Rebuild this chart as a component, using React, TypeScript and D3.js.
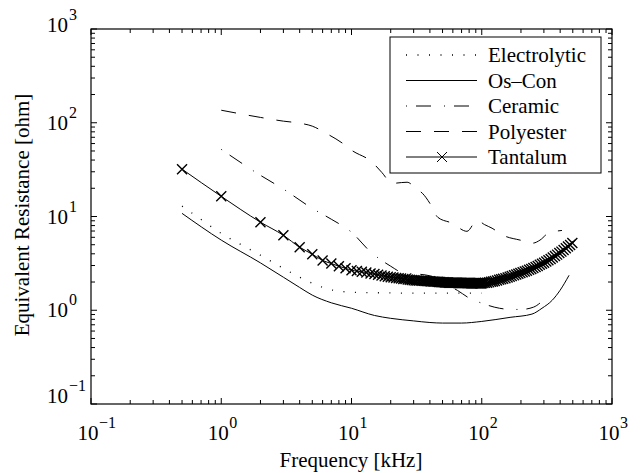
import React from "react";
import * as d3 from "d3";

const width = 641;
const height = 473;
const left = 91, right = 612, top = 29, bottom = 404;
const serif = {fontFamily: '"Liberation Serif", "DejaVu Serif", serif'};

// values, frequency in kHz, resistance in ohm
const electroFreq = [0.5, 0.7, 1, 1.5, 2, 3, 4, 5, 7, 10, 15, 20, 30, 50, 70, 100];
const electroRes = [12.9, 9.3, 6.6, 4.8, 3.86, 2.8, 2.25, 1.94, 1.65, 1.56, 1.54, 1.53, 1.52, 1.52, 1.52, 1.52];

const osconFreq = [0.5, 1, 2, 3, 4, 5, 7, 10, 15, 20, 30, 40, 50, 70, 100, 165, 243, 290, 348, 399, 468];
const osconRes = [10.8, 5.6, 3.2, 2.25, 1.75, 1.45, 1.2, 1.05, 0.88, 0.82, 0.77, 0.74, 0.73, 0.73, 0.76, 0.84, 0.91, 1.05, 1.28, 1.63, 2.36];

const ceramicFreq = [1, 2, 3, 5, 7, 10, 14, 20, 25, 30, 40, 50, 65, 80, 100, 137, 170, 200, 250, 300];
const ceramicRes = [52, 27.5, 19.6, 12.2, 9.35, 6.8, 4.2, 2.95, 2.5, 2.45, 2.33, 1.95, 1.63, 1.35, 1.19, 1.05, 1.02, 1.02, 1.08, 1.3];

const polyFreq = [1, 2, 3, 4, 5, 6.4, 8.6, 10, 14.4, 17.1, 20.5, 26.7, 31.8, 35, 40, 46, 59, 77, 92, 105, 120, 146, 197, 247, 280, 323, 413];
const polyRes = [136, 114, 104, 99, 92, 77, 60, 51, 38, 29.5, 22.6, 23.2, 19.5, 17.7, 13.8, 9.8, 8.5, 6.95, 9.1, 8.2, 7.5, 6.3, 5.6, 5.2, 5.6, 6.6, 7.1];

const tantFreq = [
  0.5, 1, 2, 3, 4, 5, 6, 7, 8, 9,
  10, 11, 12, 13, 14, 15, 16, 17, 18, 19,
  20, 21, 22, 23, 24, 25, 26, 27, 28, 29,
  30, 31, 32, 33, 34, 35, 36, 37, 38, 39,
  40, 41, 42, 43, 44, 45, 46, 47, 48, 49,
  50, 51, 52, 53, 54, 55, 56, 57, 58, 59,
  60, 61, 62, 63, 64, 65, 66, 67, 68, 69,
  70, 71, 72, 73, 74, 75, 76, 77, 78, 79,
  80, 81, 82, 83, 84, 85, 86, 87, 88, 89,
  90, 91, 92, 93, 94, 95, 96, 97, 98, 99,
  100, 103, 106, 110, 114, 118, 122, 126, 131, 136,
  141, 146, 152, 158, 164, 170, 177, 184, 191, 198,
  206, 214, 222, 231, 240, 249, 259, 269, 279, 290,
  301, 313, 325, 338, 351, 365, 379, 394, 409, 425,
  442, 459, 477, 496,
];
const tantRes = [
  32, 16.4, 8.7, 6.3, 4.7, 3.96, 3.4, 3.15, 2.95, 2.8,
  2.67, 2.62, 2.57, 2.52, 2.47, 2.43, 2.39, 2.35, 2.31, 2.28,
  2.25, 2.23, 2.21, 2.19, 2.18, 2.16, 2.15, 2.13, 2.12, 2.1,
  2.09, 2.08, 2.08, 2.07, 2.07, 2.06, 2.06, 2.05, 2.05, 2.04,
  2.04, 2.03, 2.03, 2.02, 2.02, 2.01, 2.01, 2.0, 2.0, 1.99,
  1.99, 1.99, 1.98, 1.98, 1.98, 1.98, 1.97, 1.97, 1.97, 1.97,
  1.96, 1.96, 1.96, 1.96, 1.96, 1.96, 1.95, 1.95, 1.95, 1.95,
  1.95, 1.95, 1.95, 1.95, 1.95, 1.95, 1.95, 1.95, 1.95, 1.95,
  1.95, 1.95, 1.95, 1.94, 1.94, 1.94, 1.94, 1.94, 1.94, 1.94,
  1.94, 1.94, 1.94, 1.94, 1.94, 1.94, 1.94, 1.94, 1.94, 1.94,
  1.94, 1.95, 1.96, 1.97, 1.99, 2.01, 2.03, 2.05, 2.08, 2.11,
  2.14, 2.17, 2.2, 2.24, 2.28, 2.32, 2.36, 2.4, 2.45, 2.49,
  2.54, 2.59, 2.64, 2.7, 2.76, 2.83, 2.9, 2.97, 3.05, 3.13,
  3.22, 3.32, 3.42, 3.53, 3.65, 3.78, 3.92, 4.07, 4.22, 4.4,
  4.58, 4.78, 4.98, 5.22,
];

const decades = [-1, 0, 1, 2, 3];
const legendNames = ["Electrolytic", "Os\u2013Con", "Ceramic", "Polyester", "Tantalum"];
const dashes = ["1 10.5", "", "1 9 15 13", "15 13", ""];

const x = d3.scaleLog().domain([0.1, 1000]).range([left, right]);
const y = d3.scaleLog().domain([0.1, 1000]).range([bottom, top]);

const line = d3.line<[number, number]>()
  .x(d => x(d[0]))
  .y(d => y(d[1]))
  .curve(d3.curveMonotoneX);

const pts = (f: number[], r: number[]) => f.map((v, i) => [v, r[i]] as [number, number]);

const series = [
  pts(electroFreq, electroRes),
  pts(osconFreq, osconRes),
  pts(ceramicFreq, ceramicRes),
  pts(polyFreq, polyRes),
  pts(tantFreq, tantRes),
];

function Cross({cx, cy, w = 1.4}: {cx: number, cy: number, w?: number}) {
  const s = 5;
  return <path d={`M${cx - s},${cy - s}L${cx + s},${cy + s}M${cx - s},${cy + s}L${cx + s},${cy - s}`}
               stroke="black" strokeWidth={w} fill="none"/>;
}

function minorTicks() {
  const out: number[] = [];
  decades.slice(0, -1).forEach(e => {
    for (let k = 2; k <= 9; k++) out.push(k * Math.pow(10, e));
  });
  return out;
}

export default function App() {
  const minors = minorTicks();
  const majors = decades.map(e => Math.pow(10, e));
  const expLabel = (e: number) => (e < 0 ? "\u2212" + Math.abs(e) : String(e));

  return (
    <svg width={width} height={height} style={{position: "absolute", left: 0, top: 0, background: "white"}}>
      <rect x={0} y={0} width={width} height={height} fill="white"/>

      {/* data */}
      <g fill="none" stroke="black" strokeWidth={1}>
        {series.map((s, i) => (
          <path key={i} d={line(s) || ""} strokeDasharray={dashes[i] || undefined}
                strokeWidth={i === 0 ? 1.3 : 1}/>
        ))}
      </g>
      <g>
        {series[4].map((d, i) => <Cross key={i} cx={x(d[0])} cy={y(d[1])}/>)}
      </g>

      {/* ticks */}
      <g stroke="black" strokeWidth={1}>
        {majors.map((v, i) => (
          <g key={"M" + i}>
            <line x1={x(v)} x2={x(v)} y1={bottom} y2={bottom - 6}/>
            <line x1={x(v)} x2={x(v)} y1={top} y2={top + 6}/>
            <line x1={left} x2={left + 6} y1={y(v)} y2={y(v)}/>
            <line x1={right} x2={right - 6} y1={y(v)} y2={y(v)}/>
          </g>
        ))}
        {minors.map((v, i) => (
          <g key={"m" + i}>
            <line x1={x(v)} x2={x(v)} y1={bottom} y2={bottom - 4}/>
            <line x1={x(v)} x2={x(v)} y1={top} y2={top + 4}/>
            <line x1={left} x2={left + 4} y1={y(v)} y2={y(v)}/>
            <line x1={right} x2={right - 4} y1={y(v)} y2={y(v)}/>
          </g>
        ))}
      </g>
      <rect x={left} y={top} width={right - left} height={bottom - top} fill="none" stroke="black" strokeWidth={1.2}/>

      {/* tick labels */}
      <g fill="black" style={serif}>
        {decades.map(e => {
          const px = x(Math.pow(10, e));
          return (
            <g key={"xl" + e}>
              <text x={px - 3} y={440} fontSize={21} textAnchor="middle" style={serif}>10</text>
              <text x={px + 8} y={428} fontSize={16} style={serif}>{expLabel(e)}</text>
            </g>
          );
        })}
        {decades.map(e => {
          const py = y(Math.pow(10, e));
          const off = e === -1 ? -1 : e === 3 ? 3 : 7;
          return (
            <g key={"yl" + e}>
              <text x={68} y={py + off} fontSize={21} textAnchor="end" style={serif}>10</text>
              <text x={69} y={py + off - 12} fontSize={16} style={serif}>{expLabel(e)}</text>
            </g>
          );
        })}
      </g>

      {/* axis titles */}
      <text x={351} y={467} fontSize={21} textAnchor="middle" style={serif}>Frequency [kHz]</text>
      <text transform="translate(29,215) rotate(-90)" fontSize={21} textAnchor="middle" style={serif}>
        Equivalent Resistance [ohm]
      </text>

      {/* legend */}
      <g>
        <rect x={390} y={37} width={211} height={136} fill="white" stroke="black" strokeWidth={1}/>
        {legendNames.map((name, i) => {
          const ly = 55 + i * 25.5;
          return (
            <g key={name}>
              <line x1={406} x2={477} y1={ly} y2={ly} stroke="black"
                    strokeWidth={i === 0 ? 1.3 : 1} strokeDasharray={dashes[i] || undefined}/>
              {i === 4 && <Cross cx={442} cy={ly} w={1}/>}
              <text x={488} y={ly + 7} fontSize={21} style={serif}>{name}</text>
            </g>
          );
        })}
      </g>
    </svg>
  );
}
